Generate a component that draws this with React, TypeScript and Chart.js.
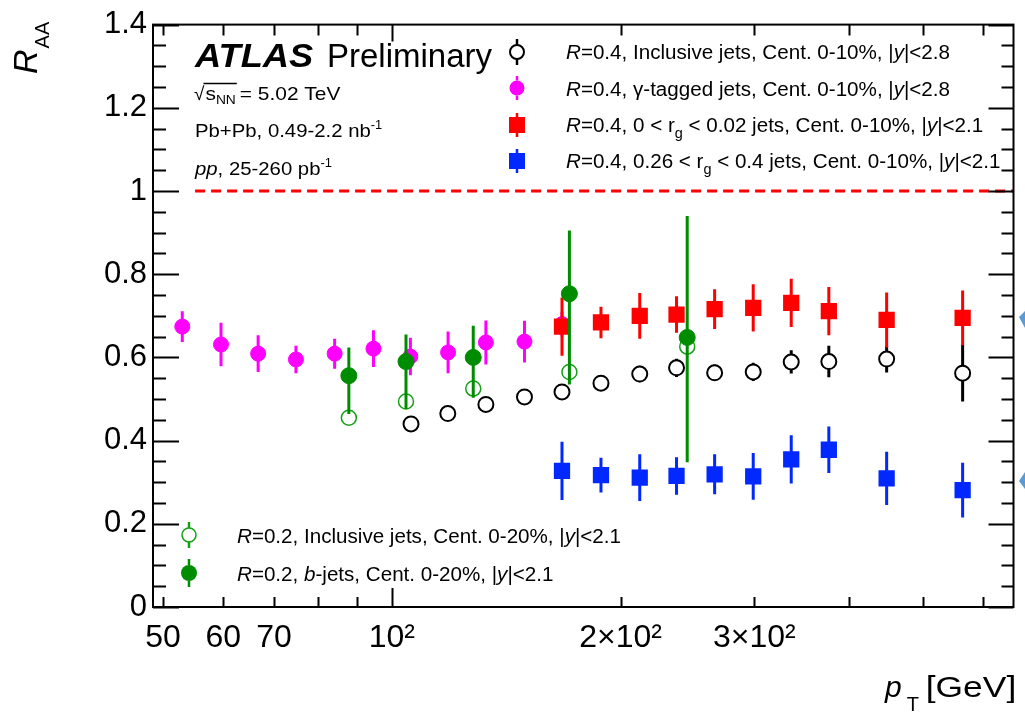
import React, { useEffect, useRef } from 'react';
import { Chart, registerables } from 'chart.js';

Chart.register(...registerables);

const FONT = '"Liberation Sans", Arial, Helvetica, sans-serif';

// ---------- axes ----------
const xTickValues = [50, 60, 70, 80, 90, 100, 200, 300, 400, 500, 600];
const xTickLabels = ['50', '60', '70', '', '', '10²', '2×10²', '3×10²', '', '', ''];
const xMajorTicks = [100];
const yTickValues = [0, 0.2, 0.4, 0.6, 0.8, 1, 1.2, 1.4];
const yTickLabels = ['0', '0.2', '0.4', '0.6', '0.8', '1', '1.2', '1.4'];
const yMinorStep = 0.05;
const xMin = 48.5;
const xMax = 658;
const yMin = 0;
const yMax = 1.4;
const unityLineFrom = 55.1;

// ---------- data ----------
// R=0.4 inclusive jets, 0-10%
const incl04Pt = [106, 118.5, 133, 149.5, 167.5, 188.5, 212, 237, 266, 299, 335.5, 376, 448, 564];
const incl04R = [0.440, 0.465, 0.487, 0.505, 0.517, 0.538, 0.560, 0.575, 0.563, 0.565, 0.589, 0.590, 0.596, 0.562];
const incl04Err = [0.01, 0.012, 0.012, 0.012, 0.012, 0.015, 0.02, 0.022, 0.02, 0.022, 0.028, 0.038, 0.032, 0.068];

// R=0.4 gamma-tagged jets
const gammaPt = [53, 59.6, 66.7, 74.8, 84.1, 94.6, 105.8, 118.6, 133, 149.5, 167.5];
const gammaR = [0.674, 0.631, 0.609, 0.595, 0.609, 0.621, 0.602, 0.612, 0.636, 0.638, 0.68];
const gammaErr = [0.037, 0.052, 0.044, 0.033, 0.036, 0.044, 0.045, 0.05, 0.053, 0.05, 0.03];

// R=0.4 r_g selected jets
const rgPt = [167.5, 188.5, 212, 237, 266, 299, 335.5, 376, 448, 564];
const rgNarrowR = [0.674, 0.684, 0.700, 0.703, 0.716, 0.719, 0.731, 0.711, 0.690, 0.695];
const rgNarrowErr = [0.07, 0.038, 0.055, 0.044, 0.048, 0.057, 0.058, 0.058, 0.066, 0.066];
const rgWideR = [0.327, 0.317, 0.311, 0.315, 0.319, 0.314, 0.355, 0.378, 0.309, 0.281];
const rgWideErr = [0.07, 0.042, 0.056, 0.045, 0.048, 0.056, 0.058, 0.056, 0.064, 0.066];

// R=0.2 jets, 0-20%
const r02Pt = [87.8, 104.4, 128, 171.3, 244.8];
const incl02R = [0.455, 0.494, 0.525, 0.565, 0.626];
const incl02Err = [0.012, 0.014, 0.016, 0.018, 0.02];
const bjetR = [0.556, 0.590, 0.600, 0.753, 0.648];
const bjetErrUp = [0.068, 0.065, 0.076, 0.152, 0.292];
const bjetErrDn = [0.092, 0.114, 0.097, 0.218, 0.300];

// ---------- colours ----------
const BLACK = '#000000';
const MAGENTA = '#ff00ff';
const RED = '#ff0000';
const BLUE = '#0028ff';
const GREEN = '#008c00';
const GREEN_OPEN = '#14a014';

type Seg = { t: string; i?: boolean; b?: boolean; sub?: boolean; sup?: boolean; size?: number; dy?: number; dx?: number; sx?: number };

const legendTop: Seg[][] = [
  [{ t: 'R', i: true }, { t: '=0.4, Inclusive jets, Cent. 0-10%, |' }, { t: 'y', i: true }, { t: '|<2.8' }],
  [{ t: 'R', i: true }, { t: '=0.4, γ-tagged jets, Cent. 0-10%, |' }, { t: 'y', i: true }, { t: '|<2.8' }],
  [{ t: 'R', i: true }, { t: '=0.4, 0 < r' }, { t: 'g', sub: true }, { t: ' < 0.02 jets, Cent. 0-10%, |' }, { t: 'y', i: true }, { t: '|<2.1' }],
  [{ t: 'R', i: true }, { t: '=0.4, 0.26 < r' }, { t: 'g', sub: true }, { t: ' < 0.4 jets, Cent. 0-10%, |' }, { t: 'y', i: true }, { t: '|<2.1' }],
];
const legendBottom: Seg[][] = [
  [{ t: 'R', i: true }, { t: '=0.2, Inclusive jets, Cent. 0-20%, |' }, { t: 'y', i: true }, { t: '|<2.1' }],
  [{ t: 'R', i: true }, { t: '=0.2, ' }, { t: 'b', i: true }, { t: '-jets, Cent. 0-20%, |' }, { t: 'y', i: true }, { t: '|<2.1' }],
];

function drawRich(ctx: CanvasRenderingContext2D, x: number, y: number, size: number, segs: Seg[], stretch = 1) {
  let cx = x;
  for (const s of segs) {
    const fs = s.size ?? (s.sub || s.sup ? size * 0.7 : size);
    ctx.font = `${s.i ? 'italic ' : ''}${s.b ? 'bold ' : ''}${fs}px ${FONT}`;
    const dy = s.dy ?? (s.sub ? size * 0.3 : s.sup ? -size * 0.42 : 0);
    const sx = (s.sx ?? 1) * stretch;
    cx += s.dx ?? 0;
    ctx.save();
    ctx.translate(cx, y + dy);
    ctx.scale(sx, 1);
    ctx.fillText(s.t, 0, 0);
    ctx.restore();
    cx += ctx.measureText(s.t).width * sx;
  }
  return cx;
}

function marker(ctx: CanvasRenderingContext2D, x: number, y: number, kind: string, color: string, r: number, stub: number, lw: number) {
  ctx.save();
  ctx.strokeStyle = color;
  ctx.fillStyle = color;
  ctx.lineWidth = 2.5;
  ctx.beginPath();
  ctx.moveTo(x, y - stub);
  ctx.lineTo(x, y - r);
  ctx.moveTo(x, y + r);
  ctx.lineTo(x, y + stub);
  ctx.stroke();
  ctx.beginPath();
  if (kind === 'rect') {
    ctx.rect(x - r, y - r, 2 * r, 2 * r);
    ctx.fill();
  } else if (kind === 'open') {
    ctx.lineWidth = lw;
    ctx.arc(x, y, r, 0, Math.PI * 2);
    ctx.stroke();
  } else {
    ctx.arc(x, y, r, 0, Math.PI * 2);
    ctx.fill();
  }
  ctx.restore();
}

const atlasPlugin = {
  id: 'atlasDeco',
  beforeDatasetsDraw(chart: any) {
    const { ctx, chartArea, scales } = chart;
    const py = scales.y.getPixelForValue(1);
    ctx.save();
    ctx.strokeStyle = RED;
    ctx.lineWidth = 3;
    ctx.setLineDash([10, 6]);
    ctx.beginPath();
    ctx.moveTo(scales.x.getPixelForValue(unityLineFrom), py);
    ctx.lineTo(chartArea.right, py);
    ctx.stroke();
    ctx.restore();
  },
  beforeDatasetDraw(chart: any, args: any) {
    const ds = chart.data.datasets[args.index];
    if (!ds.errUp) return;
    const { ctx, scales } = chart;
    const yS = scales.y;
    ctx.save();
    ctx.strokeStyle = ds.errColor;
    ctx.lineWidth = ds.errWidth;
    args.meta.data.forEach((pt: any, i: number) => {
      const v = ds.data[i].y;
      const yt = yS.getPixelForValue(v + ds.errUp[i]);
      const yb = yS.getPixelForValue(v - ds.errDn[i]);
      const gap = ds.hollow ? ds.pointRadius : 0;
      ctx.beginPath();
      if (yt < pt.y - gap) {
        ctx.moveTo(pt.x, yt);
        ctx.lineTo(pt.x, pt.y - gap);
      }
      if (yb > pt.y + gap) {
        ctx.moveTo(pt.x, pt.y + gap);
        ctx.lineTo(pt.x, yb);
      }
      ctx.stroke();
    });
    ctx.restore();
  },
  afterDraw(chart: any) {
    const { ctx, chartArea, scales } = chart;
    const { left, right, top, bottom } = chartArea;
    const xS = scales.x;
    const yS = scales.y;
    ctx.save();
    // frame
    ctx.strokeStyle = '#000';
    ctx.lineWidth = 2;
    ctx.strokeRect(left, top, right - left, bottom - top);
    // x ticks (inward, bottom and top)
    ctx.beginPath();
    for (const v of xTickValues) {
      const px = Math.round(xS.getPixelForValue(v)) + 0.5;
      const major = xMajorTicks.includes(v);
      ctx.moveTo(px, bottom);
      ctx.lineTo(px, bottom - (major ? 19 : 10));
      ctx.moveTo(px, top);
      ctx.lineTo(px, top + (major ? 17 : 11));
    }
    // y ticks (inward, left and right)
    const n = Math.round((yMax - yMin) / yMinorStep);
    for (let k = 0; k <= n; k++) {
      const v = yMin + k * yMinorStep;
      const py = Math.round(yS.getPixelForValue(v)) + 0.5;
      const major = k % 4 === 0;
      ctx.moveTo(left, py);
      ctx.lineTo(left + (major ? 26 : 13), py);
      ctx.moveTo(right, py);
      ctx.lineTo(right - (major ? 25 : 12), py);
    }
    ctx.lineWidth = 2;
    ctx.stroke();

    // texts
    ctx.fillStyle = '#000';
    ctx.textAlign = 'left';
    ctx.textBaseline = 'alphabetic';
    drawRich(ctx, 195, 67, 33, [{ t: 'ATLAS', i: true, b: true, sx: 1.1 }]);
    drawRich(ctx, 327, 67, 33, [{ t: 'Preliminary' }]);

    // sqrt(s_NN)
    ctx.font = `19px ${FONT}`;
    ctx.fillText('√', 194, 100);
    const sx = 194 + ctx.measureText('√').width;
    const endS = drawRich(ctx, sx + 1, 100, 19, [{ t: 's', sx: 1.1 }, { t: 'NN', size: 12, dy: 4, sx: 1.15 }]);
    ctx.beginPath();
    ctx.lineWidth = 1.3;
    ctx.moveTo(sx - 1, 83.5);
    ctx.lineTo(endS + 1, 83.5);
    ctx.stroke();
    drawRich(ctx, endS + 4, 100, 19, [{ t: '= 5.02 TeV' }], 1.1);
    drawRich(ctx, 195, 137, 19, [{ t: 'Pb+Pb, 0.49-2.2 nb' }, { t: '-1', size: 12, dy: -8 }], 1.07);
    drawRich(ctx, 195, 175, 19, [{ t: 'pp', i: true }, { t: ', 25-260 pb' }, { t: '-1', size: 12, dy: -8 }], 1.07);

    // top legend
    const topRows = [59, 95.5, 132, 168];
    marker(ctx, 517, 52, 'open', BLACK, 7, 13, 2);
    marker(ctx, 517, 88, 'filled', MAGENTA, 7.5, 12, 0);
    marker(ctx, 517, 125, 'rect', RED, 8, 12, 0);
    marker(ctx, 517, 161, 'rect', BLUE, 8, 12, 0);
    legendTop.forEach((segs, i) => drawRich(ctx, 566, topRows[i], 20, segs, 1.03));

    // bottom legend
    const botRows = [543, 581];
    marker(ctx, 189, 535, 'open', GREEN_OPEN, 7, 13, 1.5);
    marker(ctx, 189, 573, 'filled', GREEN, 8, 14, 0);
    legendBottom.forEach((segs, i) => drawRich(ctx, 237, botRows[i], 20, segs, 1.03));

    // axis titles
    ctx.save();
    ctx.translate(37, 74);
    ctx.rotate(-Math.PI / 2);
    drawRich(ctx, 0, 0, 34, [{ t: 'R', i: true }, { t: 'AA', sub: true, size: 20, dy: 12, dx: 1 }]);
    ctx.restore();
    drawRich(ctx, 885, 697, 30, [{ t: 'p', i: true }, { t: 'T', size: 20, dy: 14, dx: 5 }, { t: ' [GeV]', dx: -3, sx: 1.18 }]);

    // clipped neighbour markers at the right edge
    ctx.fillStyle = '#5b9bd5';
    ctx.beginPath();
    ctx.moveTo(1019, 317);
    ctx.lineTo(1025, 311);
    ctx.lineTo(1025, 328);
    ctx.closePath();
    ctx.moveTo(1019, 481);
    ctx.lineTo(1025, 472);
    ctx.lineTo(1025, 489);
    ctx.closePath();
    ctx.fill();
    ctx.restore();
  },
};

function series(label: string, xs: number[], ys: number[], up: number[], dn: number[], opts: any) {
  return {
    label,
    data: xs.map((x, i) => ({ x, y: ys[i] })),
    errUp: up,
    errDn: dn,
    showLine: false,
    ...opts,
  };
}

export default function App() {
  const ref = useRef<HTMLCanvasElement | null>(null);

  useEffect(() => {
    if (!ref.current) return;
    const datasets = [
      series('R=0.2 b-jets', r02Pt, bjetR, bjetErrUp, bjetErrDn, {
        order: 0, pointStyle: 'circle', pointRadius: 8, pointBackgroundColor: GREEN, pointBorderColor: GREEN,
        pointBorderWidth: 1, errColor: GREEN, errWidth: 3,
      }),
      series('R=0.2 inclusive', r02Pt, incl02R, incl02Err, incl02Err, {
        order: 1, pointStyle: 'circle', pointRadius: 7.5, pointBackgroundColor: 'rgba(0,0,0,0)', pointBorderColor: GREEN_OPEN,
        pointBorderWidth: 1.5, errColor: GREEN_OPEN, errWidth: 3, hollow: true,
      }),
      series('R=0.4 0<rg<0.02', rgPt, rgNarrowR, rgNarrowErr, rgNarrowErr, {
        order: 2, pointStyle: 'rect', pointRadius: 11.5, pointBackgroundColor: RED, pointBorderColor: RED,
        pointBorderWidth: 0, errColor: RED, errWidth: 3,
      }),
      series('R=0.4 0.26<rg<0.4', rgPt, rgWideR, rgWideErr, rgWideErr, {
        order: 3, pointStyle: 'rect', pointRadius: 11.5, pointBackgroundColor: BLUE, pointBorderColor: BLUE,
        pointBorderWidth: 0, errColor: BLUE, errWidth: 3,
      }),
      series('R=0.4 inclusive', incl04Pt, incl04R, incl04Err, incl04Err, {
        order: 4, pointStyle: 'circle', pointRadius: 7.5, pointBackgroundColor: 'rgba(0,0,0,0)', pointBorderColor: BLACK,
        pointBorderWidth: 2, errColor: BLACK, errWidth: 3, hollow: true,
      }),
      series('R=0.4 gamma-tagged', gammaPt, gammaR, gammaErr, gammaErr, {
        order: 5, pointStyle: 'circle', pointRadius: 7.5, pointBackgroundColor: MAGENTA, pointBorderColor: MAGENTA,
        pointBorderWidth: 1, errColor: MAGENTA, errWidth: 3,
      }),
    ];

    const chart = new Chart(ref.current, {
      type: 'scatter',
      data: { datasets } as any,
      plugins: [atlasPlugin],
      options: {
        responsive: false,
        animation: false,
        devicePixelRatio: 1,
        events: [],
        layout: { padding: { left: 0, right: 9, top: 19, bottom: 0 } },
        plugins: { legend: { display: false }, tooltip: { enabled: false } },
        scales: {
          x: {
            type: 'logarithmic',
            min: xMin,
            max: xMax,
            grid: { display: false, drawTicks: false },
            border: { display: false },
            afterBuildTicks: (s: any) => {
              s.ticks = xTickValues.map((v) => ({ value: v }));
            },
            afterFit: (s: any) => {
              s.height = 107;
            },
            ticks: {
              autoSkip: false,
              maxRotation: 0,
              minRotation: 0,
              padding: 12,
              color: '#000',
              font: { family: FONT, size: 32 },
              callback: (_v: any, i: number) => xTickLabels[i],
            },
          },
          y: {
            type: 'linear',
            min: yMin,
            max: yMax,
            grid: { display: false, drawTicks: false },
            border: { display: false },
            afterBuildTicks: (s: any) => {
              s.ticks = yTickValues.map((v) => ({ value: v }));
            },
            afterFit: (s: any) => {
              s.width = 153;
            },
            ticks: {
              padding: 6,
              color: '#000',
              font: { family: FONT, size: 31 },
              callback: (_v: any, i: number) => yTickLabels[i],
            },
          },
        },
      } as any,
    });
    return () => chart.destroy();
  }, []);

  return (
    <div style={{ position: 'absolute', left: 0, top: 0, width: 1025, height: 714, background: '#fff' }}>
      <canvas ref={ref} width={1025} height={714} style={{ display: 'block' }} />
    </div>
  );
}
